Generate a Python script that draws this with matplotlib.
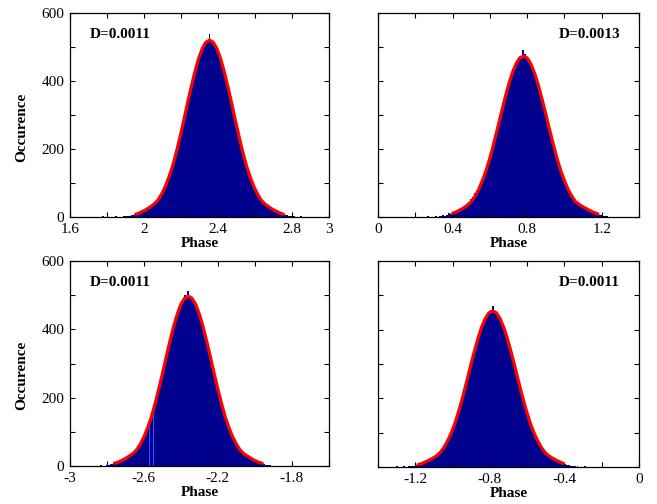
import numpy as np
import matplotlib.pyplot as plt

plt.rcParams['font.family'] = ['Liberation Serif', 'DejaVu Serif']

bin_w = 0.01
curve_step = 0.02

# panel 1 (top left)
p1_start = 1.90
p1_counts = [2, 3, 4, 5, 6, 9, 11, 12, 13, 18,
             20, 24, 25, 31, 32, 39, 43, 47, 56, 68,
             75, 90, 100, 120, 131, 152, 168, 192, 210, 237,
             257, 285, 306, 335, 355, 383, 402, 428, 445, 468,
             480, 497, 504, 516, 515, 537,
             514, 518, 503, 494, 477, 468, 444, 424, 401, 383,
             355, 336, 305, 285, 256, 238, 210, 193, 168, 152,
             131, 119, 100, 90, 78, 64, 58, 49, 42, 37,
             34, 29, 27, 22, 21, 16, 15, 12, 11, 9,
             7, 5, 4, 3]
p1_tail_x = [1.72, 1.75, 1.78, 1.80, 1.83, 1.85, 1.87, 1.89, 2.81, 2.83, 2.85, 2.87, 2.90, 2.92]
p1_tail_n = [1, 1, 2, 1, 1, 2, 1, 2, 2, 1, 2, 1, 1, 1]
p1_curve_start = 1.955
p1_curve = [8, 12, 17, 23, 30, 38, 49, 67, 89, 117, 150, 190, 235, 283, 333, 381, 426, 465, 495, 514,
            520, 514, 495, 465, 426, 381, 333, 283, 235, 190, 150, 117, 89, 67, 49, 38, 30, 23, 17, 12, 8]

# panel 2 (top right)
p2_start = 0.325
p2_counts = [2, 2, 5, 3, 6, 12, 8, 12, 14, 14,
             17, 22, 23, 28, 29, 39, 43, 53, 59, 71,
             69, 83, 92, 108, 120, 139, 152, 175, 191, 216,
             233, 260, 278, 305, 322, 350, 366, 391, 405, 425,
             436, 455, 458, 472, 466, 490,
             478, 470, 455, 452, 436, 425, 404, 390, 366, 349,
             323, 306, 278, 261, 233, 217, 190, 176, 152, 140,
             118, 110, 91, 84, 70, 62, 52, 46, 39, 36,
             31, 28, 24, 22, 18, 16, 13, 12, 9, 8,
             6, 5, 4, 3]
p2_tail_x = [0.19, 0.22, 0.25, 0.27, 0.29, 0.31, 1.23, 1.25, 1.27]
p2_tail_n = [1, 1, 1, 2, 1, 2, 2, 1, 1]
p2_curve_start = 0.40
p2_curve = [11, 15, 21, 27, 35, 45, 61, 81, 107, 137, 173, 214, 258, 303, 347, 388, 423, 450, 468,
            473, 468, 450, 423, 388, 347, 303, 258, 214, 173, 137, 107, 81, 61, 45, 37, 30, 24, 18, 13, 9]

# panel 3 (bottom left)
p3_start = -2.815
p3_counts = [1, 3, 2, 5, 5, 9, 9, 12, 13, 17,
             18, 23, 24, 30, 31, 38, 45, 47, 56, 62,
             75, 83, 99, 111, 129, 143, 160, 184, 200, 228,
             244, 273, 292, 320, 337, 366, 384, 409, 424, 447,
             458, 475, 487, 500, 493, 512,
             496, 488, 486, 470, 462, 441, 429, 404, 389, 362,
             343, 315, 297, 268, 250, 222, 205, 180, 165, 141,
             129, 111, 100, 83, 76, 61, 55, 44, 41, 34,
             33, 27, 26, 20, 20, 14, 14, 10, 10, 7,
             6, 4, 4, 2]
p3_light_bins = [24, 26]
p3_tail_x = [-2.90, -2.86, -2.83, -1.90, -1.87]
p3_tail_n = [1, 1, 2, 1, 1]
p3_curve_start = -2.76
p3_curve = [8, 11, 16, 22, 29, 36, 47, 64, 85, 112, 143, 182, 225, 270, 318, 364, 407, 444, 473, 491,
            497, 491, 473, 444, 407, 364, 318, 270, 225, 182, 143, 112, 85, 64, 47, 36, 29, 22, 16, 11, 8]

# panel 4 (bottom right)
p4_start = -1.24
p4_counts = [2, 2, 4, 3, 5, 8, 8, 11, 12, 14,
             18, 19, 22, 25, 30, 35, 38, 44, 50, 57,
             68, 76, 90, 101, 118, 130, 149, 164, 187, 203,
             228, 245, 270, 288, 313, 330, 356, 369, 393, 404,
             422, 429, 446, 448, 458, 470,
             456, 447, 445, 430, 422, 404, 392, 370, 356, 331,
             314, 289, 271, 245, 228, 203, 187, 164, 150, 129,
             118, 101, 91, 76, 69, 56, 52, 41, 38, 32,
             30, 25, 24, 19, 18, 14, 13, 9, 10, 6,
             5, 4, 3, 2]
p4_tail_x = [-1.32, -1.30, -1.28, -1.26, -0.33, -0.31, -0.29, -0.27, -0.25, -0.23, -0.21]
p4_tail_n = [1, 2, 1, 2, 2, 1, 2, 1, 1, 1, 1]
p4_curve_start = -1.185
p4_curve = [7, 10, 15, 20, 26, 33, 43, 58, 78, 102, 131, 166, 205, 247, 291, 333, 372, 406, 432, 449,
            454, 449, 432, 406, 372, 333, 291, 247, 205, 166, 131, 102, 78, 58, 43, 33, 26, 20, 15, 10]

labels_D = ['D=0.0011', 'D=0.0013', 'D=0.0011', 'D=0.0011']
xlims = [(1.6, 3.0), (0.0, 1.4), (-3.0, -1.6), (-1.4, 0.0)]
xtick_labels = [['1.6', '', '2', '', '2.4', '', '2.8', '3'],
                ['0', '', '0.4', '', '0.8', '', '1.2', ''],
                ['-3', '', '-2.6', '', '-2.2', '', '-1.8', ''],
                ['', '-1.2', '', '-0.8', '', '-0.4', '', '0']]
ytick_vals = [0, 100, 200, 300, 400, 500, 600]
ytick_labels = ['0', '', '200', '', '400', '', '600']

hist_color = '#00008f'
fs = 11

fig = plt.figure(figsize=(6.57, 5.04), dpi=100)
rects = [[0.1065, 0.5694, 0.394, 0.4048],
         [0.5753, 0.5694, 0.3973, 0.4048],
         [0.1065, 0.0754, 0.394, 0.4067],
         [0.5753, 0.0734, 0.3973, 0.4087]]

panels = [(p1_start, p1_counts, p1_tail_x, p1_tail_n, p1_curve_start, p1_curve),
          (p2_start, p2_counts, p2_tail_x, p2_tail_n, p2_curve_start, p2_curve),
          (p3_start, p3_counts, p3_tail_x, p3_tail_n, p3_curve_start, p3_curve),
          (p4_start, p4_counts, p4_tail_x, p4_tail_n, p4_curve_start, p4_curve)]

for i, (start, counts, tx, tn, cstart, curve) in enumerate(panels):
    ax = fig.add_axes(rects[i])
    edges = start + bin_w * np.arange(len(counts) + 1)
    ax.stairs(counts, edges, fill=True, color=hist_color, linewidth=0)
    if i == 2:
        for b in p3_light_bins:
            ax.bar(edges[b] + bin_w / 2, counts[b], width=bin_w * 0.5, color='#3050ff', linewidth=0)
    ax.bar(tx, tn, width=bin_w, color='#000030', linewidth=0)
    cx = cstart + curve_step * np.arange(len(curve))
    ax.plot(cx, curve, color='red', linewidth=2.3, solid_capstyle='round')

    ax.set_xlim(*xlims[i])
    ax.set_ylim(0, 600)
    lo, hi = xlims[i]
    xt = lo + 0.2 * np.arange(8)
    ax.set_xticks(xt)
    ax.set_xticklabels(xtick_labels[i], fontsize=fs)
    ax.set_yticks(ytick_vals)
    if i % 2 == 0:
        ax.set_yticklabels(ytick_labels, fontsize=fs)
        ax.set_ylabel('Occurence', fontsize=fs, fontweight='bold')
        ax.yaxis.set_label_coords(-0.16, 0.44)
    else:
        ax.set_yticklabels([])
    ax.tick_params(direction='in', top=True, right=True, length=3.5, width=0.8, pad=4)
    ax.set_xlabel('Phase', fontsize=fs, fontweight='bold', labelpad=1)
    for s in ax.spines.values():
        s.set_linewidth(0.9)

    if i % 2 == 0:
        ax.text(0.077, 0.895, labels_D[i], transform=ax.transAxes, fontsize=fs,
                fontweight='bold', ha='left', va='center')
    else:
        ax.text(0.927, 0.895, labels_D[i], transform=ax.transAxes, fontsize=fs,
                fontweight='bold', ha='right', va='center')

fig.savefig('out.png', dpi=100)
